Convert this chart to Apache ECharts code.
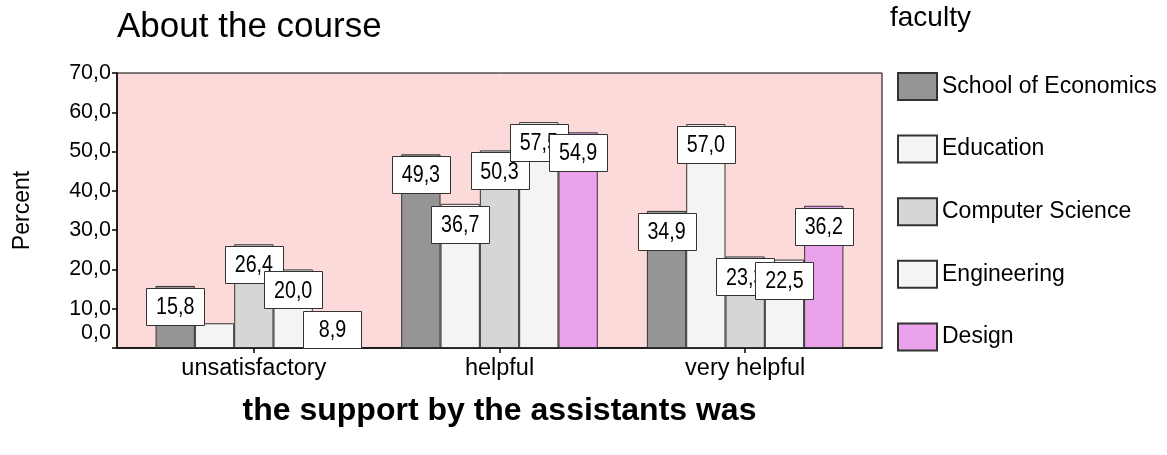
<!DOCTYPE html>
<html>
<head>
<meta charset="utf-8">
<script src="https://cdn.jsdelivr.net/npm/echarts@6/dist/echarts.min.js"></script>
<style>
html,body{margin:0;padding:0;background:#fff;}
#chart{width:1167px;height:455px;}
</style>
</head>
<body>
<div id="chart"></div>
<script>
// ---- data ----
var categories = ['unsatisfactory', 'helpful', 'very helpful'];
var faculties = ['School of Economics', 'Education', 'Computer Science', 'Engineering', 'Design'];
var econValues = [15.8, 49.3, 34.9];
var educationValues = [6.3, 36.7, 57.0];
var csValues = [26.4, 50.3, 23.3];
var engineeringValues = [20.0, 57.5, 22.5];
var designValues = [8.9, 54.9, 36.2];
var yTicks = [0, 10, 20, 30, 40, 50, 60, 70];
// labels not shown in the reference (series index, category index)
var hiddenLabels = [[1, 0]];

var seriesValues = [econValues, educationValues, csValues, engineeringValues, designValues];
var colors = ['#959595', '#f4f4f4', '#d6d6d6', '#f4f4f4', '#eaa3ea'];

function fmt(v) { return v.toFixed(1).replace('.', ','); }

var FONT = 'Liberation Sans, Arial, sans-serif';
var BAR_CATEGORY_GAP = 0.2;
var N = seriesValues.length;

var series = seriesValues.map(function (vals, si) {
  return {
    name: faculties[si],
    type: 'bar',
    xAxisIndex: 1,
    yAxisIndex: 1,
    barGap: '0%',
    barCategoryGap: (BAR_CATEGORY_GAP * 100) + '%',
    itemStyle: { color: colors[si], borderColor: '#333', borderWidth: 1 },
    data: vals
  };
});

// value label boxes (drawn above all bars, later faculties on top)
var labelData = [];
seriesValues.forEach(function (vals, si) {
  vals.forEach(function (v, ci) {
    var hide = hiddenLabels.some(function (h) { return h[0] === si && h[1] === ci; });
    if (!hide) labelData.push([ci, v, si]);
  });
});

series.push({
  type: 'custom',
  xAxisIndex: 1,
  yAxisIndex: 1,
  z: 5,
  silent: true,
  encode: { x: 0, y: 1 },
  data: labelData,
  renderItem: function (params, api) {
    var ci = api.value(0), v = api.value(1), si = api.value(2);
    var pt = api.coord([ci, v]);
    var base = api.coord([ci, 0])[1];
    var band = api.size([1, 0])[0];
    var barW = band * (1 - BAR_CATEGORY_GAP) / N;
    var cx = pt[0] + (si - (N - 1) / 2) * barW;
    var w = 58, h = 37;
    var top = Math.min(pt[1] + 2, base - h);
    return {
      type: 'group',
      children: [
        { type: 'rect', shape: { x: Math.round(cx - w / 2) + 0.5, y: Math.round(top) + 0.5, width: w, height: h },
          style: { fill: '#fff', stroke: '#333', lineWidth: 1 } },
        { type: 'text', x: cx, y: top + h / 2 + 1, scaleX: 0.82,
          style: { text: fmt(v), fontFamily: FONT, fontSize: 24, fill: '#000', align: 'center', verticalAlign: 'middle' } }
      ]
    };
  }
});

var chart = echarts.init(document.getElementById('chart'));
chart.setOption({
  animation: false,
  title: [
    { text: 'About the course', left: 117, top: 10, padding: 0, textStyle: { fontFamily: FONT, fontSize: 35, fontWeight: 'normal', color: '#000' } },
    { text: 'faculty', left: 890, top: 4, padding: 0, textStyle: { fontFamily: FONT, fontSize: 28, fontWeight: 'normal', color: '#000' } }
  ],
  legend: {
    orient: 'vertical',
    left: 897,
    top: 72,
    padding: 0,
    itemWidth: 39,
    itemHeight: 27,
    itemGap: 33.6,
    icon: 'rect',
    data: faculties,
    textStyle: { fontFamily: FONT, fontSize: 23, color: '#000' },
    selectedMode: false
  },
  grid: [
    { left: 117, top: 73, width: 765, height: 275, show: true, backgroundColor: '#fddada', borderColor: '#000', borderWidth: 1 },
    { left: 131, top: 73, width: 737, height: 275 }
  ],
  xAxis: [
    {
      gridIndex: 0, type: 'value', min: 0, max: 1,
      axisLine: { show: true, lineStyle: { color: '#000', width: 1.5 } },
      axisTick: { show: false }, axisLabel: { show: false }, splitLine: { show: false },
      name: 'the support by the assistants was', nameLocation: 'middle', nameGap: 47,
      nameTextStyle: { fontFamily: FONT, fontSize: 32, fontWeight: 'bold', color: '#000' }
    },
    {
      gridIndex: 1, type: 'category', data: categories,
      axisLine: { show: false },
      axisTick: { show: true, alignWithLabel: true, length: 5, lineStyle: { color: '#000', width: 1.5 } },
      axisLabel: { fontFamily: FONT, fontSize: 23.5, color: '#000', margin: 9 }
    }
  ],
  yAxis: [
    {
      gridIndex: 0, type: 'value', min: 0, max: 70, interval: 10,
      axisLine: { show: true, lineStyle: { color: '#000', width: 1.5 } },
      axisTick: { show: true, length: 5, lineStyle: { color: '#000', width: 1.5 } },
      splitLine: { show: false },
      axisLabel: {
        fontFamily: FONT, fontSize: 21.5, color: '#000', margin: 6,
        formatter: function (v) { return v === 0 ? '{low|' + fmt(v) + '}' : fmt(v); },
        rich: { low: { fontFamily: FONT, fontSize: 21.5, color: '#000', padding: [0, 0, 30, 0] } }
      },
      name: 'Percent', nameLocation: 'middle', nameGap: 83,
      nameTextStyle: { fontFamily: FONT, fontSize: 23, color: '#000' }
    },
    {
      gridIndex: 1, type: 'value', min: 0, max: 70, interval: 10,
      show: false
    }
  ],
  series: series
});
</script>
</body>
</html>
